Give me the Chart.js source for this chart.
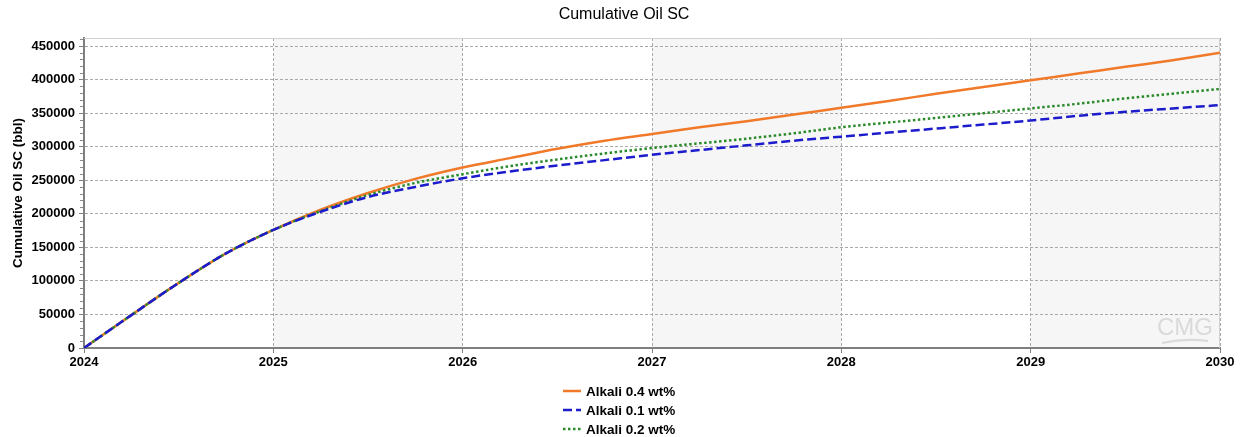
<!DOCTYPE html>
<html>
<head>
<meta charset="utf-8">
<title>Cumulative Oil SC</title>
<script src="https://cdn.jsdelivr.net/npm/chart.js@4.4.1/dist/chart.umd.min.js"></script>
<style>
  html, body { margin: 0; padding: 0; background: #fff; }
  #wrap { position: relative; width: 1248px; height: 437px; }
</style>
</head>
<body>
<div id="wrap"><canvas id="oilChart"></canvas></div>
<script>
// time in decimal years, one point per quarter
const years = [2024, 2024.25, 2024.5, 2024.75, 2025, 2025.25, 2025.5, 2025.75,
               2026, 2026.25, 2026.5, 2026.75, 2027, 2027.25, 2027.5, 2027.75,
               2028, 2028.25, 2028.5, 2028.75, 2029, 2029.25, 2029.5, 2029.75, 2030];

// cumulative oil (bbl)
const alkali04 = [0, 49000, 97000, 141000, 176000, 206000, 231000, 252000,
                  269000, 283000, 297000, 309000, 319000, 329000, 338000, 348000,
                  358000, 368000, 379000, 389000, 399000, 409000, 419000, 429000, 440000];
const alkali01 = [0, 49000, 97000, 141000, 176000, 203000, 225000, 240000,
                  253000, 263000, 272000, 280000, 288000, 295000, 302000, 309000,
                  315000, 321000, 327000, 333000, 339000, 346000, 352000, 357000, 362000];
const alkali02 = [0, 49000, 97000, 141000, 176000, 204000, 228000, 246000,
                  259000, 271000, 281000, 290000, 298000, 305000, 312000, 320000,
                  329000, 336000, 343000, 350000, 357000, 364000, 372000, 379000, 386000];

const xTicks = [2024, 2025, 2026, 2027, 2028, 2029, 2030];
const yTicks = [0, 50000, 100000, 150000, 200000, 250000, 300000, 350000, 400000, 450000];
const shadedYears = [[2025, 2026], [2027, 2028], [2029, 2030]];

const chartTitle = 'Cumulative Oil SC';
const FONT = '"Liberation Sans", Arial, sans-serif';

function toPoints(values) {
    return values.map((v, i) => ({ x: years[i], y: v }));
}

// grey bands behind every other year, plus the page title centred on the canvas
const yearBands = {
    id: 'yearBands',
    beforeDraw(chart) {
        const { ctx, chartArea, scales } = chart;
        ctx.save();
        ctx.fillStyle = '#f6f6f6';
        shadedYears.forEach(([a, b]) => {
            const x1 = scales.x.getPixelForValue(a);
            const x2 = scales.x.getPixelForValue(b);
            ctx.fillRect(x1, chartArea.top, x2 - x1, chartArea.bottom - chartArea.top);
        });
        ctx.fillStyle = '#000';
        ctx.font = '16px ' + FONT;
        ctx.textAlign = 'center';
        ctx.textBaseline = 'middle';
        ctx.fillText(chartTitle, chart.width / 2, 15);
        ctx.restore();
    }
};

// frame, minor ticks and the CMG watermark
const plotDecor = {
    id: 'plotDecor',
    beforeDatasetsDraw(chart) {
        const { ctx, chartArea, scales } = chart;
        ctx.save();
        // light top / right frame
        ctx.strokeStyle = '#d2d2d2';
        ctx.lineWidth = 1;
        ctx.beginPath();
        ctx.moveTo(chartArea.left, chartArea.top + 0.5);
        ctx.lineTo(chartArea.right - 0.5, chartArea.top + 0.5);
        ctx.lineTo(chartArea.right - 0.5, chartArea.bottom);
        ctx.stroke();

        // minor y ticks
        ctx.strokeStyle = '#8a8a8a';
        for (let v = 10000; v < scales.y.max; v += 10000) {
            if (v % 50000 === 0) continue;
            const y = Math.round(scales.y.getPixelForValue(v)) + 0.5;
            ctx.beginPath();
            ctx.moveTo(chartArea.left - 4, y);
            ctx.lineTo(chartArea.left - 1, y);
            ctx.stroke();
        }

        // watermark
        ctx.fillStyle = '#dadada';
        ctx.font = '24px ' + FONT;
        ctx.textAlign = 'center';
        ctx.textBaseline = 'middle';
        ctx.fillText('CMG', chartArea.right - 35, chartArea.bottom - 20);
        ctx.strokeStyle = '#dadada';
        ctx.lineWidth = 2;
        ctx.beginPath();
        ctx.moveTo(chartArea.right - 58, chartArea.bottom - 5);
        ctx.quadraticCurveTo(chartArea.right - 35, chartArea.bottom - 10, chartArea.right - 12, chartArea.bottom - 7);
        ctx.stroke();
        ctx.restore();
    }
};

// legend stacked in rows under the x axis
const stackedLegend = {
    id: 'stackedLegend',
    afterDraw(chart) {
        const ctx = chart.ctx;
        const x0 = 563, y0 = 391, rowH = 19;
        chart.data.datasets.forEach((ds, i) => {
            const y = y0 + i * rowH;
            ctx.save();
            ctx.strokeStyle = ds.borderColor;
            ctx.lineWidth = ds.borderWidth;
            ctx.setLineDash(ds.borderDash || []);
            ctx.beginPath();
            ctx.moveTo(x0, y);
            ctx.lineTo(x0 + 18, y);
            ctx.stroke();
            ctx.setLineDash([]);
            ctx.fillStyle = '#000';
            ctx.font = 'bold 13.5px ' + FONT;
            ctx.textBaseline = 'middle';
            ctx.fillText(ds.label, x0 + 23, y + 1);
            ctx.restore();
        });
    }
};

new Chart(document.getElementById('oilChart'), {
    type: 'line',
    data: {
        datasets: [{
            label: 'Alkali 0.4 wt%',
            data: toPoints(alkali04),
            borderColor: '#f07a2a',
            borderWidth: 2.5,
            order: 2
        }, {
            label: 'Alkali 0.1 wt%',
            data: toPoints(alkali01),
            borderColor: '#1c1ccc',
            borderWidth: 2.5,
            borderDash: [9, 4],
            order: 0
        }, {
            label: 'Alkali 0.2 wt%',
            data: toPoints(alkali02),
            borderColor: '#2a8a2a',
            borderWidth: 2.5,
            borderDash: [2.5, 2.5],
            order: 1
        }]
    },
    options: {
        responsive: true,
        maintainAspectRatio: false,
        animation: false,
        elements: {
            point: { radius: 0 },
            line: { cubicInterpolationMode: 'monotone', fill: false }
        },
        layout: { padding: { top: 38, right: 28, bottom: 64, left: 0 } },
        scales: {
            x: {
                type: 'linear',
                min: 2024,
                max: 2030,
                afterBuildTicks: s => { s.ticks = xTicks.map(v => ({ value: v })); },
                afterFit: s => { s.height = 25; },
                ticks: {
                    font: { family: FONT, size: 13, weight: 'bold' },
                    color: '#000',
                    padding: 2,
                    maxRotation: 0,
                    callback: v => String(v)
                },
                grid: { color: '#a9a9a9', lineWidth: 1, tickLength: 5, tickColor: '#808080', tickBorderDash: [] },
                border: { color: '#7f7f7f', width: 2, dash: [3, 2] }
            },
            y: {
                min: 0,
                max: 462000,
                afterBuildTicks: s => { s.ticks = yTicks.map(v => ({ value: v })); },
                afterFit: s => { s.width = 84; },
                ticks: {
                    font: { family: FONT, size: 13, weight: 'bold' },
                    color: '#000',
                    padding: 4,
                    callback: v => String(v)
                },
                grid: { color: '#a9a9a9', lineWidth: 1, tickLength: 5, tickColor: '#808080', tickBorderDash: [] },
                border: { color: '#7f7f7f', width: 2, dash: [3, 2] },
                title: {
                    display: true,
                    text: 'Cumulative Oil SC (bbl)',
                    font: { family: FONT, size: 13.5, weight: 'bold' },
                    color: '#000',
                    padding: { top: 10, bottom: 0 }
                }
            }
        },
        plugins: {
            legend: { display: false },
            tooltip: { enabled: false },
            title: { display: false }
        }
    },
    plugins: [yearBands, plotDecor, stackedLegend]
});
</script>
</body>
</html>
